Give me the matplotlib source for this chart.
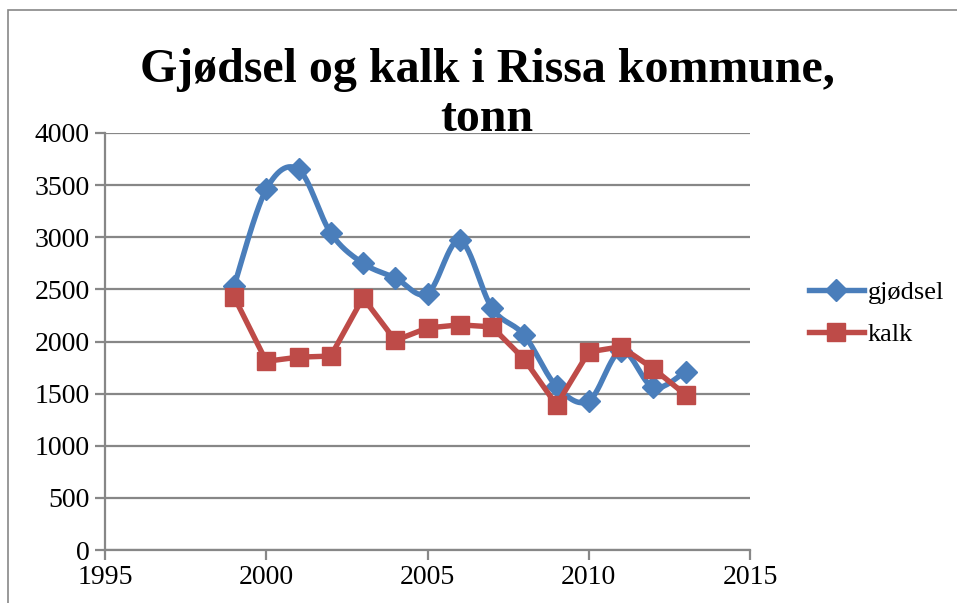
import numpy as np
import matplotlib
matplotlib.use("Agg")
import matplotlib.pyplot as plt
from matplotlib.patches import Rectangle
from matplotlib.lines import Line2D

years = [1999, 2000, 2001, 2002, 2003, 2004, 2005, 2006, 2007, 2008, 2009, 2010, 2011, 2012, 2013]
gjodsel = [2530, 3460, 3650, 3040, 2750, 2610, 2460, 2970, 2320, 2060, 1570, 1430, 1910, 1560, 1710]
kalk = [2430, 1810, 1850, 1860, 2420, 2010, 2130, 2160, 2140, 1830, 1390, 1900, 1950, 1740, 1490]

x_ticks = [1995, 2000, 2005, 2010, 2015]
y_ticks = [0, 500, 1000, 1500, 2000, 2500, 3000, 3500, 4000]

BLUE = "#4A7EBB"
RED = "#BE4B48"
GRID = "#878787"


def smooth(xs, ys, n=30):
    xs = np.asarray(xs, float)
    ys = np.asarray(ys, float)
    P = np.column_stack([xs, ys])
    P = np.vstack([P[0], P, P[-1]])
    out = []
    t = np.linspace(0, 1, n)
    for i in range(1, len(P) - 2):
        p0, p1, p2, p3 = P[i - 1], P[i], P[i + 1], P[i + 2]
        c1 = p1 + (p2 - p0) / 6
        c2 = p2 - (p3 - p1) / 6
        seg = ((1 - t)[:, None] ** 3 * p1 + 3 * ((1 - t) ** 2 * t)[:, None] * c1
               + 3 * ((1 - t) * t ** 2)[:, None] * c2 + (t ** 3)[:, None] * p2)
        out.append(seg if i == 1 else seg[1:])
    a = np.vstack(out)
    return a[:, 0], a[:, 1]


plt.rcParams['font.family'] = ['Liberation Serif', 'DejaVu Serif']

fig = plt.figure(figsize=(9.57, 6.03), dpi=100)
W, H = 957, 603
ax = fig.add_axes([105 / W, 1 - 550 / H, (750 - 105) / W, (550 - 133) / H])

# chart frame
fig.patches.append(Rectangle((8 / W, -0.05), 1.1, 1 - 10 / H + 0.05, transform=fig.transFigure,
                             fill=False, edgecolor=GRID, linewidth=1.2))

LW = 3.9
sx, sy = smooth(years, gjodsel)
ax.plot(sx, sy, color=BLUE, lw=LW, solid_capstyle='round', zorder=3)
ax.plot(years, gjodsel, ls='none', marker='D', markersize=11.5, color=BLUE, zorder=4)
ax.plot(years, kalk, color=RED, lw=LW, marker='s', markersize=13.5, zorder=5,
        solid_joinstyle='round')

ax.set_xlim(1995, 2015)
ax.set_ylim(0, 4000)
ax.set_xticks(x_ticks)
ax.set_yticks(y_ticks)
ax.yaxis.grid(True, color=GRID, lw=1.6)
ax.set_axisbelow(True)
for s in ['top', 'right']:
    ax.spines[s].set_visible(False)
for s in ['left', 'bottom']:
    ax.spines[s].set_color(GRID)
    ax.spines[s].set_linewidth(1.6)
ax.tick_params(axis='both', colors=GRID, width=1.6, length=7, labelsize=20, labelcolor='black')
ax.tick_params(axis='x', pad=4)
ax.tick_params(axis='y', pad=4)

fig.text(487 / W, 1 - 82 / H, "Gjødsel og kalk i Rissa kommune,", ha='center', va='baseline',
         fontsize=34.5, fontweight='bold')
fig.text(487 / W, 1 - 131 / H, "tonn", ha='center', va='baseline',
         fontsize=34.5, fontweight='bold')

handles = [Line2D([], [], color=BLUE, lw=LW, marker='D', markersize=11.5),
           Line2D([], [], color=RED, lw=LW, marker='s', markersize=13.5)]
fig.legend(handles, ['gjødsel', 'kalk'], loc='upper left', bbox_to_anchor=(798 / W, 1 - 270 / H),
           frameon=False, fontsize=19, handlelength=2.1, handletextpad=0.15, labelspacing=0.7,
           borderaxespad=0)

fig.savefig("out.png", dpi=100)
